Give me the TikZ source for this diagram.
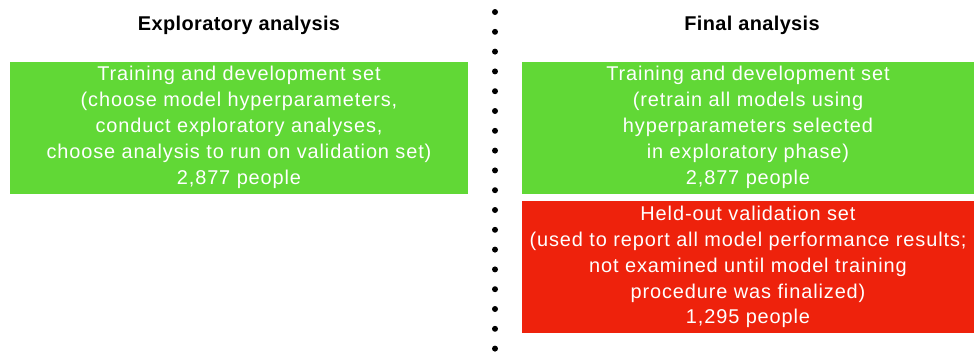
\documentclass[tikz,border=0pt]{standalone}
\usepackage{fontspec}
\setmainfont{Liberation Sans}
\newfontfamily\boxfont[LetterSpace=4.5]{Liberation Sans}
\newfontfamily\headfont[LetterSpace=2]{Liberation Sans}
\definecolor{setgreen}{HTML}{61D836}
\definecolor{setred}{HTML}{EE220C}
\begin{document}
\begin{tikzpicture}[x=1bp,y=-1bp,
  heading/.style={font=\headfont\fontsize{20}{24}\selectfont\bfseries, text=black},
  setbox/.style={minimum width=452bp, minimum height=132bp, inner sep=0pt,
    align=center, text=white, font=\boxfont\fontsize{20}{26}\selectfont},
  trainbox/.style={setbox, fill=setgreen},
  heldbox/.style={setbox, fill=setred}]
  \useasboundingbox (0,0) rectangle (974,354);
  % column headings
  \node[heading] (explhead) at (239,25) {Exploratory analysis};
  \node[heading] (finalhead) at (752,25) {Final analysis};
  % exploratory phase
  \node[trainbox, minimum width=458bp] (expltrain) at (239,127.5)
    {Training and development set\\(choose model hyperparameters,\\conduct exploratory analyses,\\choose analysis to run on validation set)\\2,877 people};
  % final phase
  \node[trainbox] (finaltrain) at (748,127.5)
    {Training and development set\\(retrain all models using\\hyperparameters selected\\in exploratory phase)\\2,877 people};
  \node[heldbox] (heldout) at (748,267)
    {Held-out validation set\\(used to report all model performance results;\\not examined until model training\\procedure was finalized)\\1,295 people};
  % dotted divider between the two phases
  \foreach \i in {0,...,17}
    \fill[black] (495,12+19.8*\i) circle (3bp);
\end{tikzpicture}
\end{document}
